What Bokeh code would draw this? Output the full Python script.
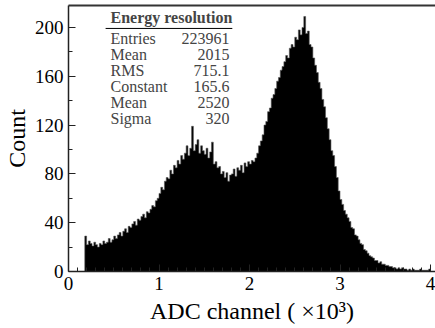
from bokeh.plotting import figure
from bokeh.models import Range1d, FixedTicker, LinearAxis, Label
from bokeh.embed import file_html
from bokeh.resources import INLINE

# ---- data -------------------------------------------------------------
bin_width = 0.02  # ADC channel (x10^3)
counts = [
    0, 0, 0, 0, 0, 0, 0, 0, 0, 29,
    22, 25, 23, 21, 24, 22, 20, 23, 22, 25,
    23, 24, 27, 24, 26, 29, 27, 30, 32, 29,
    33, 35, 32, 37, 36, 39, 41, 38, 43, 42,
    45, 47, 44, 49, 48, 51, 54, 53, 58, 60,
    64, 69, 67, 74, 77, 76, 83, 80, 87, 85,
    91, 88, 95, 92, 97, 103, 95, 101, 119, 99,
    104, 108, 97, 103, 99, 96, 101, 93, 98, 106,
    88, 90, 85, 86, 80, 82, 77, 81, 74, 79,
    80, 84, 78, 85, 83, 87, 81, 89, 86, 90,
    88, 91, 90, 93, 97, 103, 107, 112, 120, 123,
    131, 134, 142, 145, 150, 156, 159, 165, 168, 172,
    177, 175, 183, 186, 184, 192, 190, 198, 194, 200,
    209, 195, 197, 186, 184, 175, 169, 163, 155, 150,
    141, 135, 126, 117, 108, 99, 95, 86, 77, 66,
    59, 55, 50, 47, 44, 41, 36, 35, 30, 29,
    26, 23, 22, 18, 17, 15, 13, 12, 11, 9,
    9, 7, 8, 6, 6, 5, 5, 4, 4, 3,
    3, 2, 3, 2, 3, 2, 2, 1, 2, 1,
    2, 1, 1, 1, 2, 1, 1, 1, 1, 2,
]
edges = [round(i * bin_width, 4) for i in range(len(counts) + 1)]
step_y = counts + [counts[-1]]

x_ticks = [0, 1, 2, 3, 4]
x_minor = [round(0.1 * i, 2) for i in range(41) if i % 10 != 0]
y_ticks = [0, 40, 80, 120, 160, 200]
y_minor = [20, 60, 100, 140, 180]

stat_title = "Energy resolution"
stat_names = ["Entries", "Mean", "RMS", "Constant", "Mean", "Sigma"]
stat_values = ["223961", "2015", "715.1", "165.6", "2520", "320"]

FONT = "Liberation Serif"

# ---- figure -----------------------------------------------------------
p = figure(width=435, height=328, output_backend="svg", toolbar_location=None,
           x_range=Range1d(0, 4.055), y_range=Range1d(0, 218.0),
           min_border_left=68, min_border_right=0, min_border_top=5,
           min_border_bottom=57)
p.outline_line_color = None
p.xgrid.visible = False
p.ygrid.visible = False
p.background_fill_color = "white"
p.border_fill_color = "white"

p.varea_step(x=edges, y1=[0] * len(edges), y2=step_y, step_mode="after",
             fill_color="black")
p.step(x=edges, y=step_y, mode="after", line_color="#555555", line_width=0.6)

for ax, ticks, minor in ((p.xaxis[0], x_ticks, x_minor), (p.yaxis[0], y_ticks, y_minor)):
    ax.ticker = FixedTicker(ticks=ticks, minor_ticks=minor)
    ax.major_tick_in = 7
    ax.major_tick_out = 0
    ax.minor_tick_in = 4
    ax.minor_tick_out = 0
    ax.axis_line_width = 1.5
    ax.axis_line_color = "#222222"
    ax.major_tick_line_color = "#222222"
    ax.minor_tick_line_color = "#222222"
    ax.major_label_text_font = FONT
    ax.major_label_text_font_size = "19px"
    ax.major_label_text_color = "black"
    ax.major_label_standoff = 5
    ax.axis_label_text_font = FONT
    ax.axis_label_text_font_size = "24px"
    ax.axis_label_text_font_style = "normal"
    ax.axis_label_text_color = "black"

p.xaxis.axis_label = "ADC channel ( \u00d710\u00b3)"
p.xaxis.axis_label_standoff = 5
p.yaxis.axis_label = "Count"
p.yaxis.axis_label_standoff = 2

top = LinearAxis(ticker=FixedTicker(ticks=[]), major_label_text_font_size="0px",
                 major_tick_in=0, major_tick_out=0, minor_tick_in=0, minor_tick_out=0,
                 axis_line_width=2, axis_line_color="#333333")
p.add_layout(top, "above")

# ---- stat box ---------------------------------------------------------
x_left = 0.464
x_right = 1.78
p.add_layout(Label(x=x_left, y=208.2, text=stat_title, text_font=FONT,
                   text_font_size="16px", text_font_style="bold",
                   text_baseline="middle", text_align="left"))
p.segment(x0=[0.41], y0=[199.2], x1=[1.81], y1=[199.2], line_color="black", line_width=1)
row_y = [191.0, 177.9, 164.8, 151.6, 138.5, 125.4]
for name, val, yy in zip(stat_names, stat_values, row_y):
    p.add_layout(Label(x=x_left, y=yy, text=name, text_font=FONT, text_font_size="16px",
                       text_baseline="middle", text_align="left"))
    p.add_layout(Label(x=x_right, y=yy, text=val, text_font=FONT, text_font_size="16px",
                       text_baseline="middle", text_align="right"))

open("out.html", "w").write(file_html(p, INLINE))
